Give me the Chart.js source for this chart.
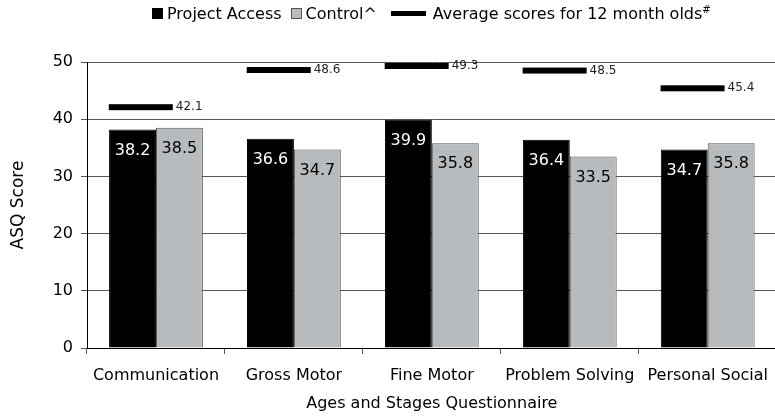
<!DOCTYPE html>
<html>
<head>
<meta charset="utf-8">
<script src="https://cdn.jsdelivr.net/npm/chart.js@4"></script>
<style>
  html, body { margin: 0; padding: 0; background: #fff; overflow: hidden; }
  #wrap { position: relative; width: 775px; height: 417px; overflow: hidden; }
  #legend {
    position: absolute; top: 4px; left: 152px;
    font: 16px "DejaVu Sans", sans-serif; color: #000;
    display: flex; align-items: center; white-space: nowrap;
  }
  #legend .sq { width: 11px; height: 11px; margin-right: 4px; box-sizing: border-box; }
  #legend .bar { width: 35px; height: 5px; background: #000; margin-right: 7px; }
  #legend sup { font-size: 10px; }
</style>
</head>
<body>
<div id="wrap">
  <canvas id="asq" width="780" height="417"></canvas>
  <div id="legend">
    <span class="sq" style="background:#000"></span><span style="margin-right:9px">Project Access</span>
    <span class="sq" style="background:#b8bbbe;border:1px solid #555"></span><span style="margin-right:14px">Control^</span>
    <span class="bar"></span><span>Average scores for 12 month olds<sup>#</sup></span>
  </div>
</div>
<script>
const categories = ["Communication", "Gross Motor", "Fine Motor", "Problem Solving", "Personal Social"];
const projectAccess = [38.2, 36.6, 39.9, 36.4, 34.7];
const control       = [38.5, 34.7, 35.8, 33.5, 35.8];
const avgScores     = [42.1, 48.6, 49.3, 48.5, 45.4];
const yTicks        = [0, 10, 20, 30, 40, 50];

const black = "#000";
const grey  = "#b8bbbe";
const gridc = "#555";
const avgShift = -0.11;   // segments sit a little left of the category centre
const avgHalf  = 32;

Chart.defaults.font.family = "'DejaVu Sans', sans-serif";
Chart.defaults.font.size = 16;
Chart.defaults.color = "#000";

// average-score segments and all value labels, placed through the chart's scales
const overlay = {
  id: "overlay",
  afterDatasetsDraw(chart) {
    const ctx = chart.ctx;
    const xs = chart.scales.x, ys = chart.scales.y;
    ctx.save();
    ctx.textBaseline = "middle";
    [0, 1].forEach(d => {
      chart.getDatasetMeta(d).data.forEach((bar, i) => {
        ctx.font = "16px 'DejaVu Sans', sans-serif";
        ctx.fillStyle = d === 0 ? "#fff" : "#000";
        ctx.textAlign = "center";
        ctx.fillText(chart.data.datasets[d].data[i].toFixed(1), bar.x, bar.y + 21);
      });
    });
    avgScores.forEach((v, i) => {
      const step = xs.getPixelForValue(1) - xs.getPixelForValue(0);
      const cx = xs.getPixelForValue(i) + avgShift * step;
      const cy = ys.getPixelForValue(v);
      ctx.fillStyle = black;
      ctx.fillRect(cx - avgHalf, cy - 3, avgHalf * 2, 6);
      ctx.font = "12px 'DejaVu Sans', sans-serif";
      ctx.fillStyle = "#222";
      ctx.textAlign = "left";
      ctx.fillText(v.toFixed(1), cx + avgHalf + 3, cy);
    });
    ctx.restore();
  }
};

new Chart(document.getElementById("asq"), {
  type: "bar",
  data: {
    labels: categories,
    datasets: [
      { label: "Project Access", data: projectAccess, backgroundColor: black, borderColor: black, borderWidth: 1,
        categoryPercentage: 0.68, barPercentage: 1 },
      { label: "Control^", data: control, backgroundColor: grey, borderColor: "#555", borderWidth: 1,
        categoryPercentage: 0.68, barPercentage: 1 }
    ]
  },
  options: {
    responsive: false,
    animation: false,
    layout: { padding: { top: 62, right: 0, left: 0, bottom: 0 } },
    plugins: { legend: { display: false }, tooltip: { enabled: false } },
    scales: {
      x: {
        grid: { display: true, drawOnChartArea: false, tickLength: 6, color: gridc, offset: true },
        border: { color: black },
        ticks: { padding: 12, maxRotation: 0, autoSkip: false, font: { size: 16 }, color: "#000" },
        title: { display: true, text: "Ages and Stages Questionnaire", font: { size: 16 }, padding: { top: 0, bottom: 4 } },
        afterFit(s) { s.height = 69; }
      },
      y: {
        min: 0, max: 50,
        afterBuildTicks(s) { s.ticks = yTicks.map(v => ({ value: v })); },
        grid: { color: gridc, tickLength: 6 },
        border: { color: black },
        ticks: { padding: 8, font: { size: 16 }, color: "#000" },
        title: { display: true, text: "ASQ Score", font: { size: 17 }, padding: { top: 8, bottom: 0 } },
        afterFit(s) { s.width = 87; }
      }
    }
  },
  plugins: [overlay]
});
</script>
</body>
</html>
